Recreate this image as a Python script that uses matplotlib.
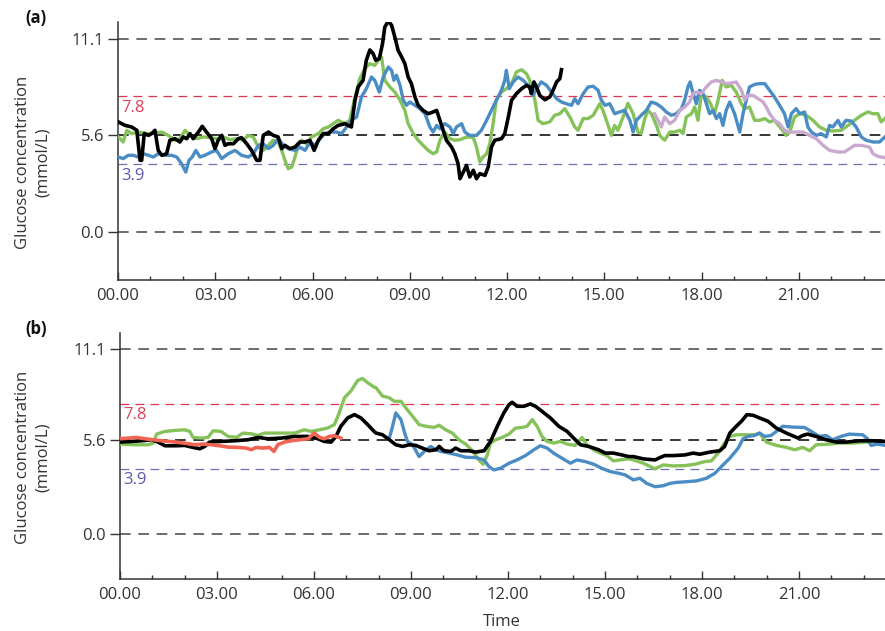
import matplotlib
matplotlib.use('Agg')
import matplotlib.pyplot as plt
from matplotlib.ticker import MultipleLocator

plt.rcParams['font.family'] = ['Open Sans', 'DejaVu Sans']

# ---- data: time (h) and glucose (mmol/L) ----
# panel (a)
a_black_t = [0.01, 0.22, 0.42, 0.58, 0.68, 0.73, 0.81, 0.94, 1.04, 1.14, 1.24, 1.35, 1.50, 1.60, 1.76, 1.91,
             2.01, 2.12, 2.22, 2.32, 2.48, 2.60, 2.73, 2.89, 2.99, 3.09, 3.20, 3.30, 3.40, 3.56, 3.71, 3.81,
             3.97, 4.12, 4.28, 4.38, 4.48, 4.64, 4.79, 4.94, 5.05, 5.15, 5.30, 5.46, 5.61, 5.77, 5.92, 6.05,
             6.18, 6.33, 6.49, 6.64, 6.79, 7.00, 7.10, 7.20, 7.31, 7.41, 7.56, 7.66, 7.77, 7.87, 7.95, 8.06,
             8.16, 8.23, 8.34, 8.44, 8.54, 8.64, 8.75, 8.85, 8.95, 9.05, 9.16, 9.26, 9.41, 9.57, 9.72, 9.83,
             9.93, 10.03, 10.13, 10.29, 10.39, 10.49, 10.55, 10.65, 10.75, 10.85, 10.96, 11.06, 11.16, 11.32,
             11.42, 11.52, 11.62, 11.83, 11.93, 12.04, 12.14, 12.29, 12.45, 12.60, 12.70, 12.75, 12.83, 12.91,
             13.01, 13.17, 13.32, 13.42, 13.53, 13.63, 13.68]
a_black_v = [6.33, 6.13, 6.04, 5.85, 4.13, 4.13, 5.66, 5.56, 5.66, 5.85, 4.70, 4.42, 4.51, 5.28, 5.37, 5.18,
             5.47, 5.37, 5.66, 5.37, 5.75, 6.08, 5.75, 5.37, 4.80, 5.28, 5.56, 4.99, 5.08, 5.08, 5.37, 5.43,
             5.08, 4.70, 4.13, 4.13, 5.56, 5.75, 5.56, 5.47, 4.80, 4.99, 4.80, 4.89, 5.18, 5.18, 5.28, 4.70,
             5.28, 5.66, 5.66, 5.94, 6.13, 6.23, 6.13, 6.04, 7.57, 8.33, 8.71, 9.86, 10.45, 10.24, 9.86, 9.95,
             10.81, 11.76, 12.11, 11.86, 11.19, 10.43, 10.05, 9.66, 8.90, 8.52, 7.76, 7.28, 6.99, 6.80, 6.90, 6.99,
             6.42, 5.85, 5.28, 4.89, 4.51, 3.94, 3.08, 3.46, 3.84, 3.18, 3.56, 3.08, 3.37, 3.27,
             3.75, 4.89, 5.28, 5.37, 5.66, 6.61, 7.57, 7.95, 8.23, 8.42, 8.33, 7.95, 8.62, 8.33,
             7.85, 7.60, 7.76, 8.14, 8.62, 8.81, 9.32]

a_green_t = [0.01, 0.16, 0.27, 0.42, 0.63, 0.94, 1.14, 1.35, 1.55, 1.76, 1.91, 2.07, 2.22, 2.43, 2.63, 2.84,
             3.04, 3.25, 3.45, 3.66, 3.86, 4.02, 4.17, 4.33, 4.48, 4.64, 4.79, 4.94, 5.05, 5.15, 5.25, 5.36,
             5.46, 5.56, 5.66, 5.82, 5.97, 6.18, 6.33, 6.49, 6.64, 6.79, 7.00, 7.15, 7.31, 7.46, 7.61, 7.77,
             7.92, 8.03, 8.13, 8.23, 8.39, 8.54, 8.70, 8.85, 8.95, 9.11, 9.26, 9.41, 9.57, 9.72, 9.83, 9.93,
             10.08, 10.24, 10.39, 10.55, 10.70, 10.85, 10.96, 11.06, 11.16, 11.26, 11.37, 11.47, 11.57, 11.67,
             11.83, 11.98, 12.14, 12.29, 12.45, 12.60, 12.70, 12.86, 12.96, 13.11, 13.32, 13.47, 13.63, 13.78,
             13.94, 14.09, 14.19, 14.35, 14.50, 14.66, 14.86, 14.96, 15.12, 15.22, 15.32, 15.42, 15.58, 15.73,
             15.89, 16.04, 16.14, 16.25, 16.35, 16.45, 16.61, 16.71, 16.86, 17.02, 17.17, 17.33, 17.43, 17.53,
             17.69, 17.79, 17.89, 17.99, 18.15, 18.28, 18.40, 18.51, 18.64, 18.76, 18.92, 19.07, 19.23, 19.33,
             19.48, 19.64, 19.79, 19.95, 20.10, 20.25, 20.46, 20.61, 20.72, 20.87, 21.03, 21.23, 21.44, 21.64,
             21.85, 22.05, 22.31, 22.52, 22.72, 22.93, 23.13, 23.29, 23.44, 23.54, 23.66]
a_green_v = [5.47, 5.18, 5.85, 5.66, 5.75, 5.66, 5.70, 5.75, 5.56, 5.28, 5.37, 5.85, 5.56, 5.37, 5.47, 5.43,
             5.37, 5.47, 5.31, 5.37, 5.28, 5.56, 5.47, 4.89, 4.70, 4.99, 5.28, 5.18, 4.70, 4.13, 3.65, 3.75,
             4.32, 4.99, 5.28, 5.08, 5.47, 5.66, 5.94, 6.04, 6.23, 6.42, 6.23, 6.42, 7.76, 8.81, 9.38, 9.66,
             9.57, 9.86, 10.05, 8.71, 8.33, 8.04, 7.57, 6.99, 6.23, 5.66, 5.28, 4.99, 4.70, 4.51, 4.61, 5.28,
             5.75, 5.37, 5.28, 5.31, 5.43, 5.47, 5.43, 4.89, 4.04, 4.32, 4.51, 5.08, 6.23, 7.57,
             8.04, 8.23, 8.52, 9.19, 9.32, 9.09, 8.71, 7.57, 6.42, 6.23, 6.33, 6.71, 6.80, 7.09,
             6.61, 6.04, 5.85, 6.52, 6.52, 6.71, 7.37, 6.99, 6.13, 5.56, 6.13, 5.85, 6.61, 7.40,
             6.80, 5.75, 5.66, 6.52, 6.99, 6.80, 6.13, 5.56, 5.28, 5.75, 5.75, 5.85, 5.66, 6.61,
             6.80, 7.18, 6.42, 7.85, 7.76, 7.37, 6.80, 7.57, 8.71, 8.33, 8.42, 8.04, 7.37, 7.09,
             7.18, 6.42, 6.42, 6.52, 6.33, 6.42, 5.94, 5.56, 5.75, 6.61, 6.80, 6.71, 6.42, 6.04,
             5.85, 5.81, 5.85, 6.13, 6.42, 6.71, 6.90, 6.80, 6.80, 6.33, 6.52]

a_blue_t = [0.01, 0.16, 0.32, 0.47, 0.63, 0.78, 0.94, 1.09, 1.24, 1.45, 1.65, 1.81, 1.96, 2.09, 2.19, 2.29,
            2.40, 2.53, 2.68, 2.89, 3.04, 3.20, 3.40, 3.61, 3.81, 4.02, 4.17, 4.33, 4.48, 4.64, 4.79, 4.94,
            5.10, 5.25, 5.46, 5.61, 5.77, 5.92, 6.08, 6.23, 6.38, 6.54, 6.74, 6.90, 7.05, 7.20, 7.36, 7.51,
            7.66, 7.82, 7.92, 8.06, 8.18, 8.34, 8.44, 8.51, 8.59, 8.70, 8.80, 8.90, 9.00, 9.16, 9.31, 9.47,
            9.62, 9.72, 9.83, 9.93, 10.08, 10.24, 10.34, 10.44, 10.60, 10.70, 10.85, 11.06, 11.21, 11.37,
            11.52, 11.67, 11.83, 11.93, 11.98, 12.07, 12.19, 12.34, 12.50, 12.65, 12.81, 12.91, 13.06, 13.22,
            13.37, 13.53, 13.68, 13.83, 13.99, 14.09, 14.19, 14.35, 14.50, 14.66, 14.81, 14.91, 15.02, 15.17,
            15.32, 15.48, 15.63, 15.79, 15.89, 15.99, 16.14, 16.30, 16.45, 16.61, 16.76, 16.91, 17.07, 17.22,
            17.38, 17.48, 17.58, 17.65, 17.74, 17.84, 17.94, 18.05, 18.15, 18.25, 18.35, 18.46, 18.56, 18.66,
            18.76, 18.87, 19.02, 19.18, 19.28, 19.38, 19.48, 19.64, 19.79, 19.95, 20.10, 20.25, 20.41, 20.56,
            20.67, 20.77, 20.92, 21.03, 21.18, 21.28, 21.39, 21.54, 21.69, 21.85, 21.95, 22.05, 22.21, 22.31,
            22.46, 22.62, 22.77, 22.93, 23.08, 23.29, 23.49, 23.66]
a_blue_v = [4.32, 4.23, 4.42, 4.42, 4.32, 4.51, 4.42, 4.32, 4.51, 4.42, 4.42, 4.32, 3.94, 3.46, 4.13, 4.32,
            4.70, 4.32, 4.42, 4.61, 4.70, 4.23, 4.51, 4.70, 4.42, 4.32, 4.51, 4.99, 5.08, 4.80, 4.99, 5.37,
            4.99, 4.80, 4.70, 4.89, 4.70, 5.18, 4.99, 5.37, 5.66, 5.75, 5.75, 5.66, 6.04, 6.42, 6.61, 7.76,
            8.23, 8.90, 8.71, 8.04, 8.90, 9.47, 9.28, 8.71, 9.00, 8.42, 7.57, 7.28, 7.47, 7.28, 7.09, 6.80,
            6.04, 5.75, 6.13, 5.94, 6.23, 6.04, 5.66, 6.04, 6.23, 5.75, 5.56, 5.56, 5.85, 6.42,
            6.99, 7.57, 8.14, 8.71, 9.28, 8.23, 8.62, 8.90, 8.71, 8.42, 7.85, 8.23, 8.62, 8.42,
            8.04, 7.66, 7.47, 7.37, 7.28, 7.66, 7.37, 7.95, 8.33, 8.37, 8.14, 7.57, 7.28, 7.37,
            6.80, 6.90, 7.00, 6.42, 5.75, 6.42, 6.71, 6.99, 7.47, 7.37, 7.18, 6.90, 6.71, 6.80,
            7.09, 7.57, 8.33, 8.62, 7.95, 7.37, 8.14, 7.95, 7.37, 6.80, 6.99, 6.52, 6.80, 6.13,
            6.99, 7.47, 6.80, 5.75, 6.80, 7.57, 8.33, 8.48, 8.52, 8.52, 8.14, 7.76, 7.28, 6.80,
            6.04, 6.80, 7.09, 6.80, 6.90, 6.04, 5.75, 5.56, 5.66, 5.47, 6.13, 6.04, 6.42, 6.04,
            6.42, 6.38, 6.04, 5.47, 5.28, 5.18, 5.18, 5.47]

a_pink_t = [16.55, 16.66, 16.76, 16.86, 17.02, 17.17, 17.33, 17.48, 17.63, 17.74, 17.84, 17.99, 18.15, 18.30,
            18.46, 18.61, 18.76, 18.92, 19.07, 19.23, 19.33, 19.43, 19.59, 19.74, 19.90, 20.00, 20.10, 20.25,
            20.41, 20.56, 20.72, 20.92, 21.13, 21.33, 21.54, 21.75, 21.95, 22.21, 22.41, 22.57, 22.72, 22.93,
            23.18, 23.29, 23.44, 23.66]
a_pink_v = [6.80, 6.42, 6.04, 6.61, 6.23, 6.42, 6.99, 7.18, 7.47, 7.95, 8.04, 7.95, 8.33, 8.62,
            8.71, 8.62, 8.52, 8.56, 8.62, 8.14, 7.57, 7.85, 7.85, 7.66, 7.47, 7.18, 6.80, 6.42,
            6.23, 5.85, 5.75, 5.75, 5.75, 5.56, 5.37, 4.99, 4.70, 4.61, 4.61, 4.80, 4.99, 4.99,
            4.89, 4.51, 4.36, 4.28]

# panel (b)
b_red_t = [0.00, 0.26, 0.51, 0.77, 1.03, 1.28, 1.54, 1.80, 2.06, 2.31, 2.57, 2.83, 3.08, 3.34, 3.65, 3.91,
           4.06, 4.21, 4.42, 4.62, 4.76, 4.88, 5.09, 5.29, 5.55, 5.81, 6.01, 6.17, 6.32, 6.47, 6.63, 6.83]
b_red_v = [5.70, 5.74, 5.78, 5.70, 5.64, 5.58, 5.54, 5.48, 5.42, 5.34, 5.38, 5.34, 5.28, 5.20, 5.18, 5.14,
           5.04, 5.18, 5.14, 5.18, 4.94, 5.34, 5.50, 5.58, 5.64, 5.70, 6.04, 5.78, 5.70, 5.84, 5.88, 5.74]

b_black_t = [0.00, 0.36, 0.67, 0.98, 1.18, 1.39, 1.70, 2.00, 2.26, 2.47, 2.62, 2.77, 3.13, 3.55, 3.96, 4.27,
             4.57, 4.98, 5.40, 5.81, 6.12, 6.32, 6.53, 6.68, 6.83, 7.04, 7.25, 7.45, 7.66, 7.86, 7.92, 8.12,
             8.33, 8.53, 8.74, 8.94, 9.15, 9.35, 9.56, 9.77, 9.87, 10.02, 10.23, 10.38, 10.54, 10.79, 11.00,
             11.26, 11.46, 11.67, 11.87, 12.03, 12.13, 12.28, 12.49, 12.69, 12.85, 13.05, 13.31, 13.57, 13.83,
             14.03, 14.24, 14.49, 14.80, 15.01, 15.26, 15.52, 15.73, 15.88, 16.19, 16.55, 16.70, 16.85, 17.11,
             17.47, 17.73, 17.93, 18.24, 18.55, 18.70, 18.86, 19.06, 19.22, 19.39, 19.58, 19.78, 20.04, 20.30,
             20.61, 20.97, 21.12, 21.27, 21.53, 21.84, 22.15, 22.46, 22.87, 23.28, 23.66]
b_black_v = [5.50, 5.54, 5.58, 5.64, 5.50, 5.28, 5.28, 5.30, 5.18, 5.10, 5.24, 5.50, 5.54, 5.58, 5.64, 5.78,
             5.70, 5.74, 5.84, 5.84, 5.70, 5.54, 5.50, 5.84, 6.45, 6.95, 7.15, 6.95, 6.55, 6.14, 6.04, 5.94,
             5.64, 5.34, 5.24, 5.34, 5.30, 5.14, 4.98, 5.04, 5.24, 4.98, 4.94, 5.14, 4.98, 4.98, 4.90,
             4.98, 5.54, 6.45, 7.25, 7.75, 7.89, 7.65, 7.65, 7.79, 7.65, 7.35, 6.95, 6.45, 6.14,
             5.74, 5.34, 5.24, 5.04, 4.84, 4.84, 4.73, 4.63, 4.63, 4.49, 4.43, 4.57, 4.69, 4.69,
             4.73, 4.84, 4.77, 4.90, 4.98, 5.24, 6.04, 6.45, 6.75, 7.15, 7.11, 6.95, 6.75, 6.34,
             6.04, 5.74, 5.90, 5.98, 5.84, 5.64, 5.50, 5.50, 5.58, 5.58, 5.54]

b_green_t = [0.00, 0.46, 0.87, 1.03, 1.13, 1.39, 1.70, 2.00, 2.16, 2.26, 2.52, 2.72, 2.88, 3.13, 3.34, 3.60,
             3.80, 4.06, 4.27, 4.47, 4.78, 5.09, 5.40, 5.70, 5.91, 6.17, 6.42, 6.63, 6.78, 6.94, 7.14, 7.35,
             7.50, 7.66, 7.86, 7.92, 8.12, 8.33, 8.48, 8.69, 8.84, 9.05, 9.25, 9.46, 9.71, 9.87, 10.07, 10.28,
             10.48, 10.69, 10.90, 11.10, 11.23, 11.36, 11.46, 11.62, 11.82, 12.03, 12.23, 12.44, 12.59, 12.75,
             12.90, 13.05, 13.21, 13.41, 13.62, 13.83, 14.08, 14.29, 14.44, 14.65, 14.85, 15.06, 15.26, 15.47,
             15.73, 15.88, 16.19, 16.55, 16.80, 17.11, 17.47, 17.78, 18.09, 18.29, 18.50, 18.66, 18.86, 19.06,
             19.37, 19.63, 19.78, 19.99, 20.30, 20.61, 20.87, 21.12, 21.33, 21.53, 21.95, 22.26, 22.67, 23.08,
             23.66]
b_green_v = [5.38, 5.34, 5.34, 5.44, 5.98, 6.14, 6.20, 6.24, 6.14, 5.78, 5.74, 5.78, 6.18, 6.14, 5.84, 5.78,
             6.04, 6.00, 5.90, 6.04, 6.04, 6.04, 6.04, 6.24, 6.14, 6.24, 6.34, 6.55, 7.25, 8.16, 8.56, 9.20,
             9.32, 9.06, 8.80, 8.76, 8.26, 8.16, 7.95, 7.95, 7.55, 7.05, 6.55, 6.45, 6.38, 6.51, 6.24, 6.04,
             5.64, 5.38, 4.98, 4.43, 4.17, 4.73, 5.44, 5.64, 5.78, 5.98, 6.34, 6.38, 6.45, 6.85,
             6.45, 5.84, 5.54, 5.44, 5.54, 5.38, 5.30, 5.78, 5.34, 5.04, 4.84, 4.69, 4.37, 4.43,
             4.49, 4.43, 4.23, 3.89, 4.13, 4.07, 4.09, 4.17, 4.33, 4.37, 4.84, 5.34, 5.84, 5.94,
             5.94, 5.94, 6.04, 5.50, 5.30, 5.18, 5.04, 5.18, 4.98, 5.34, 5.38, 5.44, 5.44, 5.50,
             5.54]

b_blue_t = [8.33, 8.43, 8.53, 8.69, 8.79, 8.89, 9.05, 9.25, 9.41, 9.61, 9.77, 9.92, 10.18, 10.43, 10.69, 11.00,
            11.26, 11.41, 11.56, 11.77, 12.03, 12.28, 12.54, 12.80, 13.00, 13.21, 13.41, 13.67, 13.93, 14.13,
            14.39, 14.65, 14.90, 15.16, 15.42, 15.62, 15.88, 16.08, 16.29, 16.55, 16.80, 17.01, 17.21, 17.52,
            17.83, 18.14, 18.40, 18.60, 18.86, 19.12, 19.27, 19.42, 19.63, 19.78, 19.94, 20.14, 20.30, 20.50,
            20.81, 21.17, 21.38, 21.63, 21.84, 22.04, 22.30, 22.55, 22.97, 23.12, 23.23, 23.43, 23.66]
b_blue_v = [5.74, 6.45, 7.25, 6.85, 6.14, 5.54, 5.34, 4.63, 4.94, 5.24, 5.04, 4.94, 4.84, 4.73, 4.59, 4.57,
            4.43, 4.03, 3.83, 3.93, 4.23, 4.43, 4.69, 5.04, 5.28, 5.14, 4.84, 4.53, 4.23, 4.43,
            4.33, 4.17, 3.93, 3.73, 3.63, 3.53, 3.23, 3.33, 3.02, 2.82, 2.88, 3.02, 3.08, 3.12,
            3.17, 3.33, 3.63, 4.03, 4.53, 5.14, 5.70, 5.84, 5.90, 6.04, 5.84, 5.90, 6.14, 6.45,
            6.40, 6.38, 6.14, 5.84, 5.90, 5.64, 5.84, 5.98, 5.94, 5.70, 5.30, 5.38, 5.30]

ref_levels = [11.1, 7.8, 5.6, 3.9, 0.0]
ytick_vals = [11.1, 5.6, 0.0]
ytick_labels = ['11.1', '5.6', '0.0']
xtick_vals = [0, 3, 6, 9, 12, 15, 18, 21]
xtick_labels = ['00.00', '03.00', '06.00', '09.00', '12.00', '15.00', '18.00', '21.00']

BLUE = '#4a8cc4'
GREEN = '#86c25a'
PINK = '#c9a9cf'
RED = '#f06454'
BLACK = '#000000'
TXT = '#333333'
REF_STYLE = {
    11.1: dict(color='#444444', lw=1.1),
    7.8: dict(color='#e0334f', lw=0.9),
    5.6: dict(color='#000000', lw=1.1),
    3.9: dict(color='#6f6fb2', lw=0.9),
    0.0: dict(color='#444444', lw=1.1),
}

fig = plt.figure(figsize=(8.85, 6.31), dpi=100)
ax_a = fig.add_axes([118 / 885, 1 - 280 / 631, 1 - 118 / 885, (280 - 22) / 631])
ax_b = fig.add_axes([120 / 885, 1 - 579 / 631, 1 - 120 / 885, (579 - 333) / 631])


def style_axes(ax):
    ax.set_xlim(0, 23.66)
    ax.set_ylim(-2.72, 12.05)
    for lvl in ref_levels:
        ax.axhline(lvl, linestyle=(0, (7, 5)), zorder=1, **REF_STYLE[lvl])
    ax.text(0.1, 7.6, '7.8', color='#d9435a', fontsize=12, va='top', ha='left')
    ax.text(0.1, 3.7, '3.9', color='#5a5aaa', fontsize=12, va='top', ha='left')
    for s in ['top', 'right']:
        ax.spines[s].set_visible(False)
    for s in ['left', 'bottom']:
        ax.spines[s].set_color(TXT)
        ax.spines[s].set_linewidth(1.1)
    ax.set_xticks(xtick_vals)
    ax.set_xticklabels(xtick_labels)
    ax.xaxis.set_minor_locator(MultipleLocator(1))
    ax.set_yticks(ytick_vals)
    ax.set_yticklabels(ytick_labels)
    ax.tick_params(axis='x', which='major', direction='in', length=5.5, width=1.0, color=TXT,
                   labelsize=12, labelcolor=TXT, pad=6)
    ax.tick_params(axis='x', which='minor', direction='in', length=3, width=1.0, color=TXT)
    ax.tick_params(axis='y', which='major', direction='out', length=7, width=1.0, color=TXT,
                   labelsize=12, labelcolor=TXT, pad=3)


style_axes(ax_a)
ax_a.plot(a_green_t, a_green_v, color=GREEN, lw=2.4, zorder=3, solid_joinstyle='round')
ax_a.plot(a_blue_t, a_blue_v, color=BLUE, lw=2.4, zorder=3, solid_joinstyle='round')
ax_a.plot(a_pink_t, a_pink_v, color=PINK, lw=2.4, zorder=3, solid_joinstyle='round')
ax_a.plot(a_black_t, a_black_v, color=BLACK, lw=2.6, zorder=4, solid_joinstyle='round')

style_axes(ax_b)
ax_b.plot(b_green_t, b_green_v, color=GREEN, lw=2.4, zorder=3, solid_joinstyle='round')
ax_b.plot(b_blue_t, b_blue_v, color=BLUE, lw=2.4, zorder=3, solid_joinstyle='round')
ax_b.plot(b_black_t, b_black_v, color=BLACK, lw=2.6, zorder=4, solid_joinstyle='round')
ax_b.plot(b_red_t, b_red_v, color=RED, lw=2.6, zorder=5, solid_joinstyle='round')

ylab = 'Glucose concentration\n(mmol/L)'
fig.text(33 / 885, 1 - 162 / 631, ylab, rotation=90, ha='center', va='center',
         fontsize=12, color=TXT, linespacing=1.3)
fig.text(33 / 885, 1 - 457 / 631, ylab, rotation=90, ha='center', va='center',
         fontsize=12, color=TXT, linespacing=1.3)
fig.text(25 / 885, 1 - 18 / 631, '(a)', fontsize=12, fontweight='bold', ha='left', va='center', color='#111111')
fig.text(25 / 885, 1 - 329 / 631, '(b)', fontsize=12, fontweight='bold', ha='left', va='center', color='#111111')
fig.text(502 / 885, 1 - 622 / 631, 'Time', fontsize=12, ha='center', va='center', color=TXT)

fig.savefig('out.png', dpi=100)
